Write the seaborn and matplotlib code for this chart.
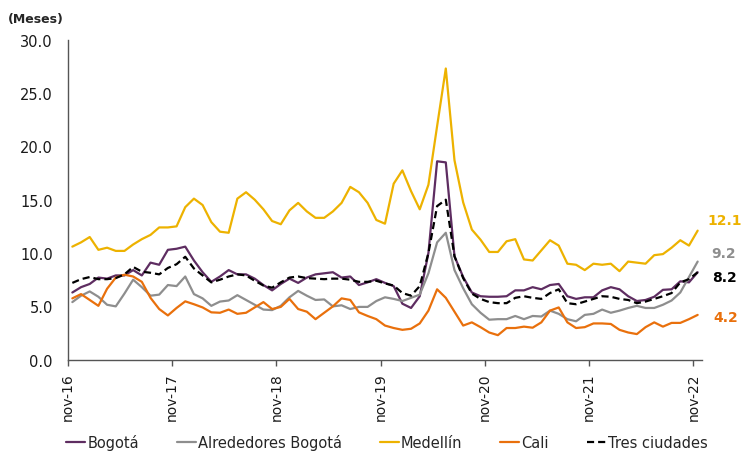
import matplotlib
matplotlib.use("Agg")
import matplotlib.pyplot as plt
import seaborn as sns
import numpy as np
import pandas as pd

# Monthly series, nov-16 .. nov-22 (73 months)
bogota = [6.3, 6.8, 7.1, 7.7, 7.6, 7.9, 7.9, 8.4, 7.9, 9.1, 8.9, 10.3, 10.4, 10.6, 9.3, 8.2, 7.3, 7.8, 8.4, 8.0,
          8.0, 7.6, 7.0, 6.5, 7.1, 7.6, 7.2, 7.7, 8.0, 8.1, 8.2, 7.7, 7.8, 7.0, 7.25, 7.55, 7.2, 6.9, 5.25, 4.85,
          5.95, 10.0, 18.6, 18.5, 9.7, 7.75, 6.3, 5.95, 5.9, 5.9, 5.95, 6.5, 6.5, 6.8, 6.6, 7.0, 7.1, 5.95, 5.7, 5.85,
          5.85, 6.5, 6.8, 6.6, 5.95, 5.5, 5.6, 5.9, 6.55, 6.6, 7.35, 7.25, 8.2]
alrededores = [5.4, 6.0, 6.4, 5.9, 5.15, 5.0, 6.2, 7.5, 6.8, 6.0, 6.1, 7.0, 6.9, 7.8, 6.15, 5.75, 5.05, 5.45, 5.55, 6.05,
               5.6, 5.15, 4.7, 4.65, 5.05, 5.85, 6.45, 6.0, 5.6, 5.65, 5.0, 5.1, 4.75, 4.95, 4.95, 5.5, 5.85, 5.7, 5.5, 5.8,
               6.1, 8.1, 11.0, 11.9, 8.4, 6.7, 5.2, 4.4, 3.75, 3.8, 3.8, 4.1, 3.8, 4.1, 4.05, 4.6, 4.3, 3.8, 3.6, 4.2,
               4.3, 4.7, 4.4, 4.6, 4.85, 5.05, 4.85, 4.85, 5.15, 5.55, 6.3, 7.75, 9.2]
medellin = [10.6, 11.0, 11.5, 10.3, 10.5, 10.2, 10.2, 10.8, 11.3, 11.7, 12.4, 12.4, 12.5, 14.3, 15.1, 14.5, 12.9, 12.0, 11.9, 15.1,
            15.7, 15.0, 14.1, 13.0, 12.7, 14.0, 14.7, 13.9, 13.3, 13.3, 13.9, 14.7, 16.2, 15.7, 14.7, 13.1, 12.75, 16.5, 17.75, 15.8,
            14.1, 16.4, 21.9, 27.3, 18.7, 14.75, 12.2, 11.25, 10.1, 10.1, 11.1, 11.3, 9.4, 9.3, 10.25, 11.2, 10.7, 9.0, 8.9, 8.4,
            9.0, 8.9, 9.0, 8.3, 9.2, 9.1, 9.0, 9.8, 9.9, 10.5, 11.2, 10.7, 12.1]
cali = [5.75, 6.15, 5.6, 5.05, 6.65, 7.7, 7.97, 7.8, 7.3, 5.8, 4.75, 4.15, 4.85, 5.47, 5.2, 4.9, 4.44, 4.4, 4.7, 4.3,
        4.4, 4.9, 5.4, 4.75, 4.95, 5.7, 4.75, 4.5, 3.8, 4.4, 5.0, 5.75, 5.6, 4.44, 4.1, 3.8, 3.2, 2.97, 2.8, 2.9,
        3.4, 4.6, 6.6, 5.8, 4.5, 3.2, 3.5, 3.05, 2.55, 2.3, 2.97, 2.97, 3.1, 3.0, 3.5, 4.6, 4.9, 3.5, 2.97, 3.05,
        3.4, 3.4, 3.35, 2.8, 2.55, 2.4, 3.05, 3.5, 3.1, 3.45, 3.45, 3.8, 4.2]
tres_ciudades = [7.2, 7.55, 7.75, 7.55, 7.55, 7.65, 8.0, 8.7, 8.25, 8.15, 8.0, 8.6, 8.95, 9.65, 8.55, 7.9, 7.25, 7.5, 7.8, 8.0,
                 7.9, 7.4, 6.95, 6.75, 7.25, 7.7, 7.8, 7.65, 7.6, 7.55, 7.6, 7.6, 7.5, 7.3, 7.3, 7.4, 7.15, 6.95, 6.25, 6.0,
                 6.9, 10.0, 14.4, 15.0, 9.7, 7.65, 6.2, 5.7, 5.4, 5.3, 5.3, 5.8, 5.95, 5.8, 5.7, 6.25, 6.6, 5.3, 5.2, 5.45,
                 5.7, 5.95, 5.9, 5.7, 5.6, 5.3, 5.45, 5.7, 5.95, 6.25, 7.25, 7.55, 8.2]

series_names = ["Bogotá", "Alrededores Bogotá", "Medellín", "Cali", "Tres ciudades"]
tick_labels = ["nov-16", "nov-17", "nov-18", "nov-19", "nov-20", "nov-21", "nov-22"]

colors = {"Bogotá": "#5E2D61", "Alrededores Bogotá": "#8E8E8E", "Medellín": "#EDB200",
          "Cali": "#E9700C", "Tres ciudades": "#000000"}

values = [bogota, alrededores, medellin, cali, tres_ciudades]
n = len(bogota)
# each month sits in the middle of its category slot
month_pos = np.arange(n) + 0.5
df = pd.concat([pd.DataFrame({"mes": month_pos, "valor": v, "serie": name})
                for name, v in zip(series_names, values)], ignore_index=True)

sns.set_style("white")
plt.rcParams["font.family"] = ["DejaVu Sans"]

fig = plt.figure(figsize=(7.44, 4.52), dpi=100)
ax = fig.add_axes([68 / 744, 1 - 360.7 / 452, 634 / 744, 320 / 452])

for name in series_names:
    sub = df[df["serie"] == name]
    sns.lineplot(data=sub, x="mes", y="valor", ax=ax, color=colors[name], linewidth=1.6,
                 linestyle=(0, (3.2, 1.8)) if name == "Tres ciudades" else "-",
                 label=name, legend=False)

ax.set_xlim(0, n)
ax.set_ylim(0, 30)
ax.set_yticks(np.arange(0, 31, 5))
ax.set_yticklabels([f"{t:.1f}" for t in np.arange(0, 31, 5)], fontsize=10.5, color="#1a1a1a")
ax.set_xticks(np.arange(0, n, 12))
ax.set_xticklabels(tick_labels, rotation=90, fontsize=10, color="#1a1a1a")
ax.tick_params(axis="x", direction="out", length=4, width=1, color="#555555", pad=5, bottom=True)
ax.tick_params(axis="y", length=0, pad=11)
ax.set_xlabel("")
ax.set_ylabel("")
for side in ["top", "right"]:
    ax.spines[side].set_visible(False)
for side in ["left", "bottom"]:
    ax.spines[side].set_color("#555555")
    ax.spines[side].set_linewidth(1.0)

fig.text(8 / 744, 1 - 20 / 452, "(Meses)", fontsize=9, fontweight="bold", va="center", ha="left")

# end-of-period value labels
end_labels = [("Medellín", medellin[-1], 11, 10), ("Alrededores Bogotá", alrededores[-1], 9, 14),
              ("Tres ciudades", tres_ciudades[-1], -5, 14), ("Cali", cali[-1], -2, 16)]
for name, val, dy, dx in end_labels:
    ax.annotate(f"{val:.1f}", xy=(month_pos[-1], val), xytext=(dx, dy),
                textcoords="offset pixels", fontsize=10, fontweight="bold", color=colors[name],
                va="center", ha="left", annotation_clip=False)

handles, labels = ax.get_legend_handles_labels()
fig.legend(handles, labels, loc="center", bbox_to_anchor=(0.52, 1 - 443 / 452), ncol=5, frameon=False,
           fontsize=10.5, handlelength=1.3, handletextpad=0.15, columnspacing=2.6)

fig.savefig("out.png", dpi=100)
